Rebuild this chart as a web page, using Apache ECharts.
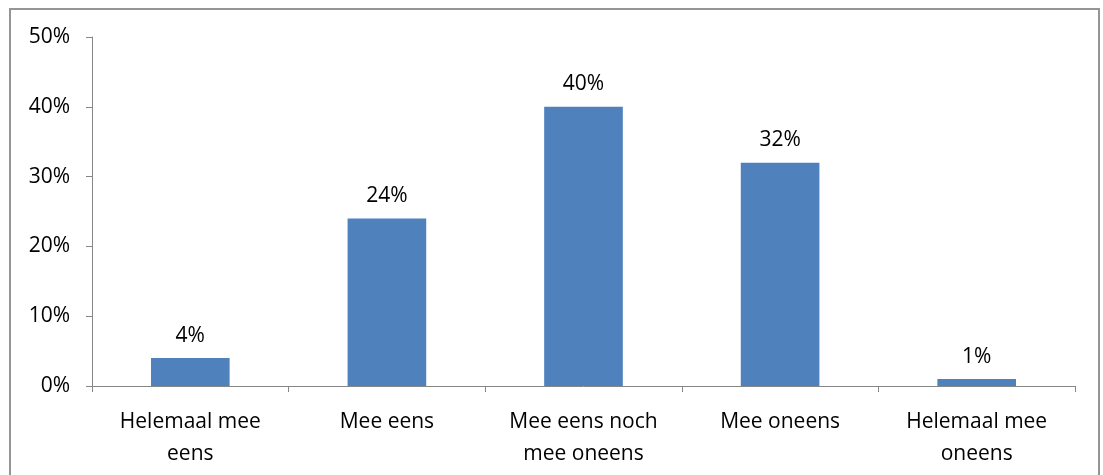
<!DOCTYPE html>
<html>
<head>
<meta charset="utf-8">
<script src="https://cdn.jsdelivr.net/npm/echarts@6/dist/echarts.min.js"></script>
<style>
  html, body { margin: 0; padding: 0; background: #fff; }
  #chart { width: 1103px; height: 475px; }
</style>
</head>
<body>
<div id="chart"></div>
<script>
// antwoordcategorieën en percentages
const categories = ['Helemaal mee\neens', 'Mee eens', 'Mee eens noch\nmee oneens', 'Mee oneens', 'Helemaal mee\noneens']
const values = [4, 24, 40, 32, 1]

const fontFamily = '"Open Sans", "Liberation Sans", sans-serif'
const axisColor = '#868686'

const myChart = echarts.init(document.getElementById('chart'))

let option = {
  animation: false,
  textStyle: { fontFamily: fontFamily },
  graphic: [
    {
      type: 'rect',
      shape: { x: 10, y: 9, width: 1089, height: 480 },
      style: { fill: 'none', stroke: '#959595', lineWidth: 2 },
      silent: true
    }
  ],
  grid: { left: 92, right: 28, top: 37, bottom: 89 },
  xAxis: {
    type: 'category',
    data: categories,
    axisLine: { lineStyle: { color: axisColor, width: 1 } },
    axisTick: { show: true, alignWithLabel: false, length: 6, lineStyle: { color: axisColor } },
    axisLabel: {
      interval: 0,
      margin: 20,
      color: '#000',
      fontSize: 21,
      lineHeight: 32,
      fontFamily: fontFamily
    }
  },
  yAxis: {
    type: 'value',
    min: 0,
    max: 50,
    interval: 10,
    splitLine: { show: false },
    axisLine: { show: true, lineStyle: { color: axisColor, width: 1 } },
    axisTick: { show: true, length: 6, lineStyle: { color: axisColor } },
    axisLabel: {
      formatter: '{value}%',
      margin: 22,
      color: '#000',
      fontSize: 21,
      fontFamily: fontFamily
    }
  },
  series: [
    {
      type: 'bar',
      data: values,
      barWidth: '40%',
      itemStyle: { color: '#4f81bd' },
      label: {
        show: true,
        position: 'top',
        distance: 12,
        formatter: '{c}%',
        color: '#000',
        fontSize: 21,
        fontFamily: fontFamily
      }
    }
  ]
}

myChart.setOption(option)
</script>
</body>
</html>
